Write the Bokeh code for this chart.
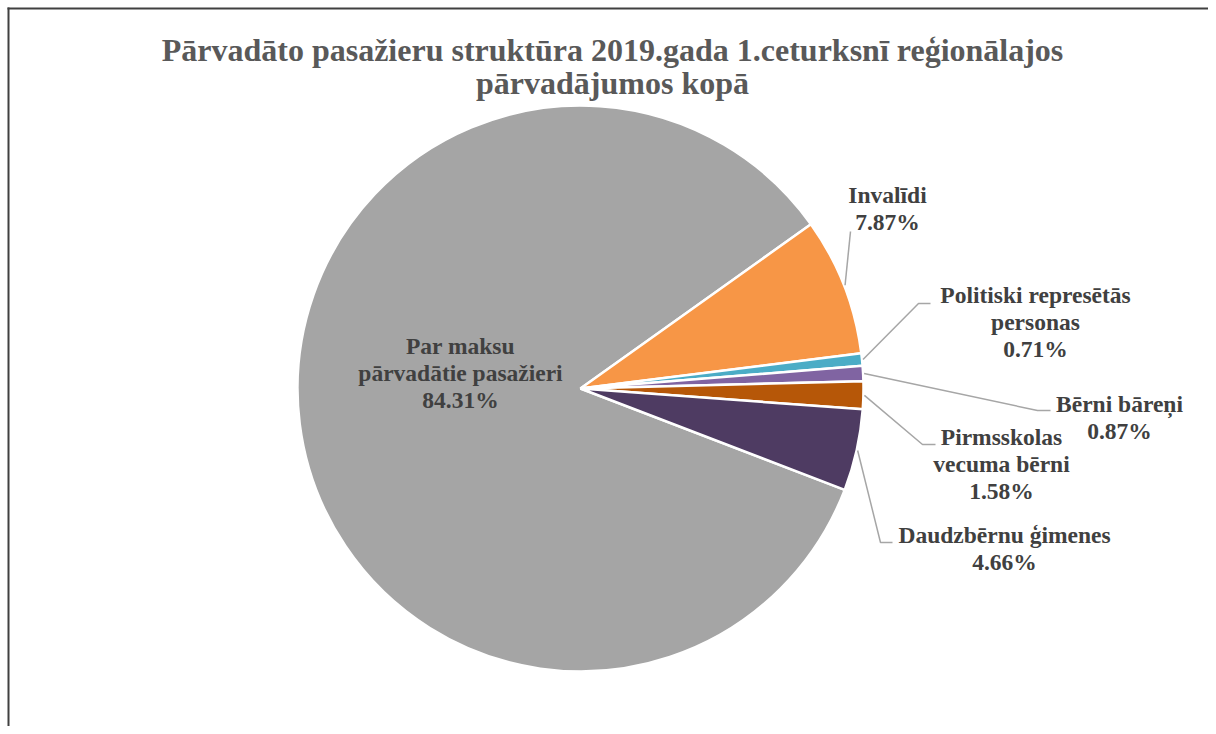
import math
from bokeh.plotting import figure
from bokeh.models import Range1d, ColumnDataSource
from bokeh.core.properties import value
from bokeh.embed import file_html
from bokeh.resources import INLINE

# ---- data ----
title_lines = ["Pārvadāto pasažieru struktūra 2019.gada 1.ceturksnī reģionālajos",
               "pārvadājumos kopā"]
categories = ["Par maksu pārvadātie pasažieri", "Invalīdi",
              "Politiski represētās personas", "Bērni bāreņi",
              "Pirmsskolas vecuma bērni", "Daudzbērnu ģimenes"]
shares = [84.31, 7.87, 0.71, 0.87, 1.58, 4.66]
label_names = ["Par maksu\npārvadātie pasažieri", "Invalīdi",
               "Politiski represētās\npersonas", "Bērni bāreņi",
               "Pirmsskolas\nvecuma bērni", "Daudzbērnu ģimenes"]
colors = ["#A5A5A5", "#F79646", "#4BACC6", "#8064A2", "#B65708", "#4E3B62"]

# ---- layout (screenshot pixel coordinates) ----
W, H = 1208, 726
def Y(py):
    return H - py

cx, cy, R = 580, Y(388), 283
first_slice_angle = 111.0  # degrees clockwise from 12 o'clock (Excel style)
font = "Liberation Serif"
label_size = "23.5px"
line_step = 27
# label centre x, first baseline y
label_pos = [(460, 345), (887, 194), (1035, 294), (1119, 403), (1001, 436), (1004, 534)]
# leader lines: extra points after the slice edge point
leaders = [None,
           [(850, 231)],
           [(918, 303), (930, 303)],
           [(1037, 410), (1050, 410)],
           [(922, 444), (935, 444)],
           [(880, 542), (892, 542)]]

p = figure(width=W, height=H, x_range=Range1d(0, W), y_range=Range1d(0, H),
           output_backend="svg", toolbar_location=None, min_border=0)
p.axis.visible = False
p.grid.visible = False
p.outline_line_color = None
p.background_fill_color = "white"
p.border_fill_color = "white"

# chart area border (left and top visible)
p.line([8, 8], [Y(7), Y(740)], line_color="#404040", line_width=2)
p.line([7, W], [Y(8), Y(8)], line_color="#404040", line_width=2)

# wedges
total = sum(shares)
start = math.radians(90 - first_slice_angle)
starts, ends, mids = [], [], []
cum = 0.0
for s in shares:
    a0 = start - 2 * math.pi * cum / total
    cum += s
    a1 = start - 2 * math.pi * cum / total
    starts.append(a1)
    ends.append(a0)
    mids.append((a0 + a1) / 2)

src = ColumnDataSource(dict(x=[cx] * len(shares), y=[cy] * len(shares),
                            start=starts, end=ends, color=colors))
p.wedge(x="x", y="y", radius=R, start_angle="start", end_angle="end",
        direction="anticlock", fill_color="color", line_color="white",
        line_width=2.5, source=src)

# leader lines
for i, pts in enumerate(leaders):
    if not pts:
        continue
    ex = cx + (R + 1) * math.cos(mids[i])
    ey = cy + (R + 1) * math.sin(mids[i])
    xs = [ex] + [q[0] for q in pts]
    ys = [ey] + [Y(q[1]) for q in pts]
    p.line(xs, ys, line_color="#A6A6A6", line_width=1.5)

# labels
tx, ty, tt = [], [], []
for i, name in enumerate(label_names):
    lines = name.split("\n") + [f"{shares[i]:.2f}%"]
    x0, y0 = label_pos[i]
    for k, ln in enumerate(lines):
        tx.append(x0)
        ty.append(Y(y0 + k * line_step))
        tt.append(ln)
p.text(x=tx, y=ty, text=tt, text_font=value(font), text_font_style="bold",
       text_font_size=label_size, text_color="#404040", text_align="center",
       text_baseline="alphabetic")

# title
p.text(x=[612, 612], y=[Y(49), Y(82)], text=title_lines, text_font=value(font),
       text_font_style="bold", text_font_size="32px", text_color="#595959",
       text_align="center", text_baseline="alphabetic")

open("out.html", "w").write(file_html(p, INLINE))
